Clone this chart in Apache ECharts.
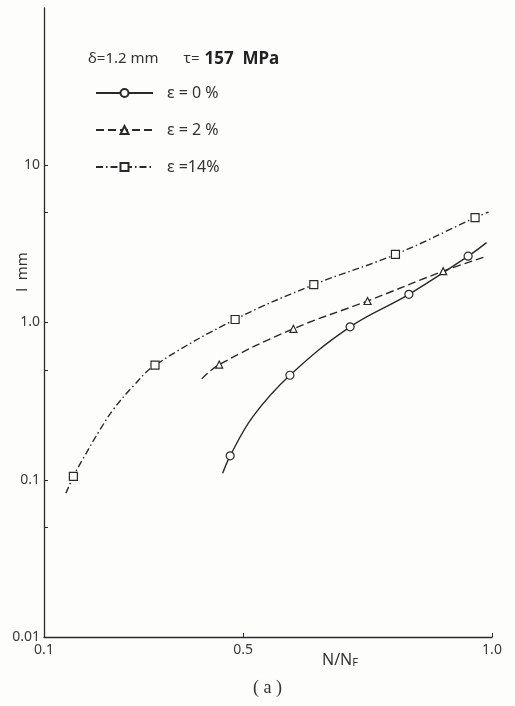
<!DOCTYPE html>
<html>
<head>
<meta charset="utf-8">
<script src="https://cdn.jsdelivr.net/npm/echarts@6/dist/echarts.min.js"></script>
<style>
  html, body { margin: 0; padding: 0; background: #fdfdfc; }
  #chart { width: 515px; height: 706px; }
</style>
</head>
<body>
<div id="chart"></div>
<script>
// Crack length l (mm) against life fraction N/NF for three pre-strains
const seriesNames = ['ε = 0 %', 'ε = 2 %', 'ε =14%'];

// ε = 0 %  measured points (open circles)
const eps0X = [0.474, 0.594, 0.715, 0.833, 0.952];
const eps0Y = [0.142, 0.462, 0.939, 1.51, 2.64];
// traced points of the fitted curve (ends and bends), no marker
const eps0PathX = [0.459, 0.520, 0.989];
const eps0PathY = [0.110, 0.253, 3.22];

// ε = 2 %  measured points (open triangles)
const eps2X = [0.452, 0.601, 0.750, 0.902];
const eps2Y = [0.54, 0.912, 1.37, 2.12];
const eps2PathX = [0.417, 0.985];
const eps2PathY = [0.438, 2.61];

// ε = 14 %  measured points (open squares)
const eps14X = [0.159, 0.323, 0.484, 0.642, 0.806, 0.966];
const eps14Y = [0.105, 0.535, 1.045, 1.74, 2.71, 4.64];
const eps14PathX = [0.144, 0.179, 0.2125, 0.239, 0.279, 0.993];
const eps14PathY = [0.082, 0.137, 0.208, 0.279, 0.393, 5.04];

// axis ticks
const xTickLabels = [0.1, 0.5, 1.0];
const yDecades = [0.01, 0.1, 1, 10];
const yTickLabels = ['0.01', '0.1', '1.0', '10'];
const yMinorTicks = [0.05, 0.5, 5];

const ink = '#2a2a2a';
const lg = Math.log10;

// merge measured points (with marker) and traced curve points (without), ordered along x
function buildLine(xs, ys, pathXs, pathYs) {
  const pts = [];
  xs.forEach((x, i) => pts.push({ value: [x, lg(ys[i])] }));
  pathXs.forEach((x, i) => pts.push({ value: [x, lg(pathYs[i])], symbol: 'none' }));
  pts.sort((a, b) => a.value[0] - b.value[0]);
  return pts;
}

function lineSeries(name, data, symbol, size, dash) {
  return {
    name, type: 'line', data, smooth: 0.4,
    symbol, symbolSize: size, showSymbol: true,
    lineStyle: { color: ink, width: 1.4, type: dash },
    itemStyle: { color: '#fdfdfc', borderColor: ink, borderWidth: 1.2 },
    emphasis: { disabled: true },
    z: 3
  };
}

const chart = echarts.init(document.getElementById('chart'), null, { renderer: 'canvas' });

const labelFont = { fontFamily: 'Noto Sans', fontSize: 14, color: '#3a3a3a' };

chart.setOption({
  backgroundColor: '#fdfdfc',
  animation: false,
  grid: { left: 44, right: 23, top: 8, bottom: 69, containLabel: false },
  title: {
    left: 83, top: 45,
    text: '{a|δ=1.2 mm}     {b|τ=} {c|157  MPa}',
    textStyle: {
      fontWeight: 'normal',
      rich: {
        a: { fontFamily: 'Noto Sans', fontSize: 15, fontWeight: 'normal', color: '#333' },
        b: { fontFamily: 'Noto Sans', fontSize: 15, fontWeight: 'normal', color: '#333' },
        c: { fontFamily: 'Noto Sans', fontSize: 17, fontWeight: 'bold', color: '#222' }
      }
    }
  },
  legend: {
    orient: 'vertical', left: 90, top: 80,
    itemWidth: 57, itemHeight: 10, itemGap: 21,
    data: seriesNames,
    selectedMode: false,
    textStyle: { fontFamily: 'Noto Sans', fontSize: 16, color: '#333', padding: [0, 0, 0, 9] }
  },
  xAxis: {
    type: 'value', min: 0.1, max: 1.0,
    axisLine: { onZero: false, lineStyle: { color: ink, width: 1.3 } },
    splitLine: { show: false },
    axisTick: { show: true, inside: true, length: 4, customValues: [0.5, 1.0], lineStyle: { color: ink } },
    axisLabel: Object.assign({ margin: 6, customValues: xTickLabels, formatter: v => v.toFixed(1) }, labelFont)
  },
  yAxis: {
    type: 'value', min: -2, max: 2, interval: 1,
    axisLine: { show: true, onZero: false, lineStyle: { color: ink, width: 1.3 } },
    splitLine: { show: false },
    axisTick: {
      show: true, inside: true, length: 4,
      customValues: yDecades.concat(yMinorTicks).map(lg),
      lineStyle: { color: ink }
    },
    axisLabel: Object.assign({
      margin: 4,
      customValues: yDecades.map(lg),
      formatter: v => {
        const i = yDecades.findIndex(d => Math.abs(lg(d) - v) < 1e-6);
        return i >= 0 ? yTickLabels[i] : '';
      }
    }, labelFont)
  },
  series: [
    lineSeries(seriesNames[0], buildLine(eps0X, eps0Y, eps0PathX, eps0PathY), 'circle', 8, 'solid'),
    lineSeries(seriesNames[1], buildLine(eps2X, eps2Y, eps2PathX, eps2PathY), 'triangle', 7, [8, 4]),
    lineSeries(seriesNames[2], buildLine(eps14X, eps14Y, eps14PathX, eps14PathY), 'rect', 8, [7, 3, 1.5, 3])
  ],
  graphic: [
    {
      type: 'text', x: 23, y: 272, rotation: Math.PI / 2,
      style: { text: 'l  mm', font: '15px "Noto Sans"', fill: '#333', align: 'center', verticalAlign: 'middle' }
    },
    {
      type: 'text', left: 322, top: 652,
      style: {
        text: '{n|N/N}{s|F}',
        rich: {
          n: { fontFamily: 'Noto Sans', fontSize: 16, fill: '#333' },
          s: { fontFamily: 'Noto Sans', fontSize: 11, fill: '#333', padding: [6, 0, 0, 0] }
        }
      }
    },
    {
      type: 'text', left: 253, top: 679,
      style: { text: '( a )', font: '18px "Liberation Serif"', fill: '#333' }
    }
  ]
});
</script>
</body>
</html>
